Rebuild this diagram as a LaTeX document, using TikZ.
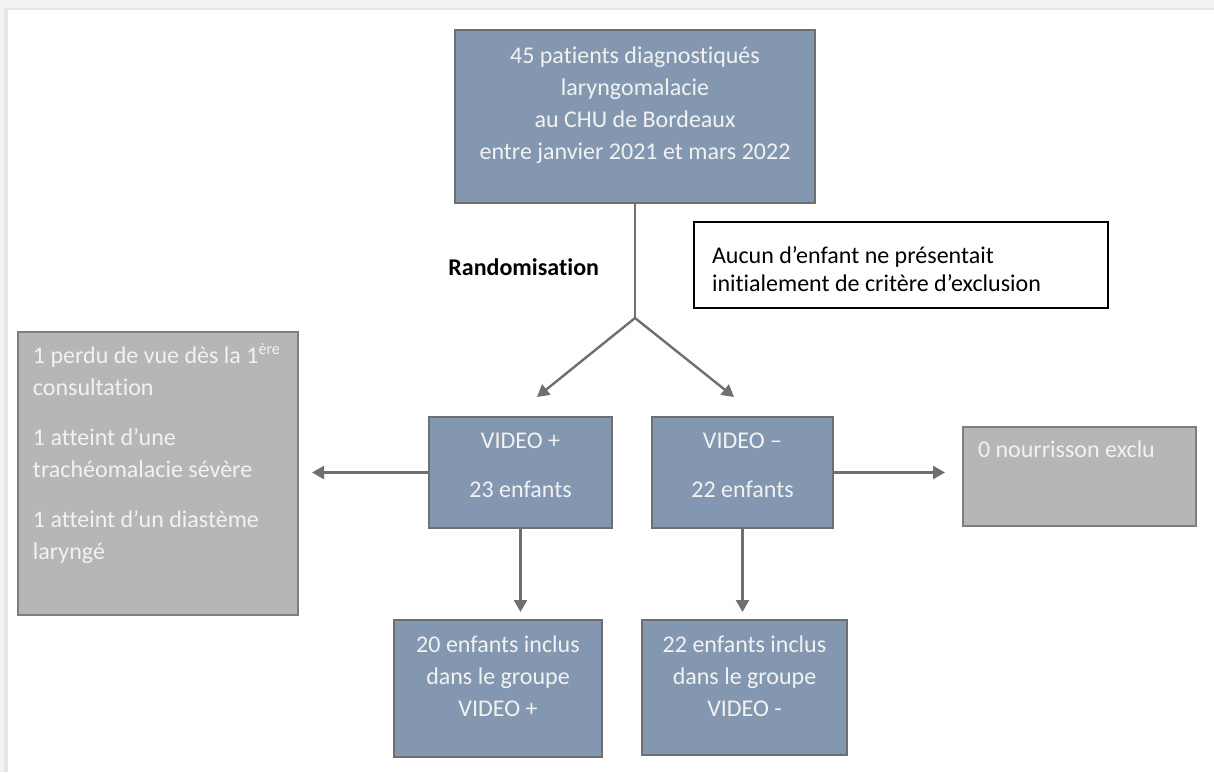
\documentclass[tikz,border=0pt]{standalone}
\usepackage{fontspec}
\setmainfont{Carlito}[Ligatures={NoCommon}]
\usetikzlibrary{arrows.meta}
\definecolor{boxblue}{HTML}{8497B0}
\definecolor{boxgrey}{HTML}{B7B5B6}
\definecolor{edgegrey}{HTML}{6F6F6F}
\definecolor{greyedge}{HTML}{7F7F7F}
\definecolor{txtw}{HTML}{F2F2F2}
\definecolor{bandA}{HTML}{F2F2F2}
\definecolor{bandB}{HTML}{E6E6E6}
\newcommand\boxcontent[4]{\parbox[c][#2][t]{#1}{\vspace*{#3}#4}}
\begin{document}
\begin{tikzpicture}[x=0.5pt,y=-0.5pt,
  base/.style={inner sep=0pt, outer sep=0pt, anchor=north west, font=\fontsize{12}{16}\selectfont},
  bluebox/.style={base, draw=edgegrey, line width=1.2pt, fill=boxblue, text=txtw},
  greybox/.style={base, draw=greyedge, line width=0.8pt, fill=boxgrey, text=txtw},
  notebox/.style={base, draw=black, line width=0.7pt, fill=white, text=black, font=\fontsize{12}{14}\selectfont},
  conn/.style={draw=edgegrey, line width=1.2pt},
  arr/.style={conn, -{Triangle[length=6pt,width=6.5pt]}}]
\useasboundingbox (0,0) rectangle (1214,772);
\fill[white] (0,0) rectangle (1214,772);
\fill[bandA] (0,0) rectangle (1214,8);
\fill[bandB] (0,8) rectangle (1214,10);
\fill[bandA] (0,0) rectangle (4,772);
\fill[bandB] (4,10) rectangle (8,772);

\node[bluebox] (top) at (455,30) {\boxcontent{180pt}{86.5pt}{5.3pt}{\centering\strut 45 patients diagnostiqués\\ laryngomalacie\\ au CHU de Bordeaux\\ entre janvier 2021 et mars 2022\par}};

\node[notebox] (note) at (694,222) {\boxcontent{207pt}{43pt}{10.7pt}{\raggedright\leftskip=9pt\strut Aucun d’enfant ne présentait\\ initialement de critère d’exclusion\par}};

\node[anchor=base west, inner sep=0pt, font=\fontsize{12}{16}\selectfont\bfseries] (rand) at (448,275) {Randomisation};

\node[bluebox] (v1) at (429,417) {\boxcontent{91.5pt}{55.5pt}{4.3pt}{\centering\strut VIDEO +\\[8.5pt] 23 enfants\par}};
\node[bluebox] (v2) at (652,417) {\boxcontent{90.5pt}{55.5pt}{4.3pt}{\centering\strut VIDEO –\\[8.5pt] 22 enfants\par}};

\node[greybox] (exl) at (18,332) {\boxcontent{140pt}{141.5pt}{4.3pt}{\raggedright\leftskip=7.5pt\strut 1 perdu de vue dès la 1\textsuperscript{ère}\\ consultation\\[9pt] 1 atteint d’une\\ trachéomalacie sévère\\[9pt] 1 atteint d’un diastème\\ laryngé\par}};
\node[greybox] (exr) at (963,427) {\boxcontent{116.5pt}{49.5pt}{3.8pt}{\raggedright\leftskip=7.5pt\strut 0 nourrisson exclu\par}};

\node[bluebox] (g1) at (394,620) {\boxcontent{104pt}{68.5pt}{4.8pt}{\centering\strut 20 enfants inclus\\ dans le groupe\\ VIDEO +\par}};
\node[bluebox] (g2) at (642,620) {\boxcontent{102.5pt}{67.5pt}{4.8pt}{\centering\strut 22 enfants inclus\\ dans le groupe\\ VIDEO -\par}};

\coordinate (J) at (635,318);
\coordinate (tL) at (537,397);
\coordinate (tR) at (734,397);
\coordinate (el) at (312,472.5);
\coordinate (er) at (945,472.5);
\coordinate (d1) at (520.5,612);
\coordinate (d2) at (742.5,612);

\draw[conn] (top.south) -- (J);
\draw[arr] (J) -- (tL);
\draw[arr] (J) -- (tR);
\draw[arr] (v1.west) -- (el);
\draw[arr] (v2.east) -- (er);
\draw[arr] (v1.south) -- (d1);
\draw[arr] (v2.south) -- (d2);
\end{tikzpicture}
\end{document}
